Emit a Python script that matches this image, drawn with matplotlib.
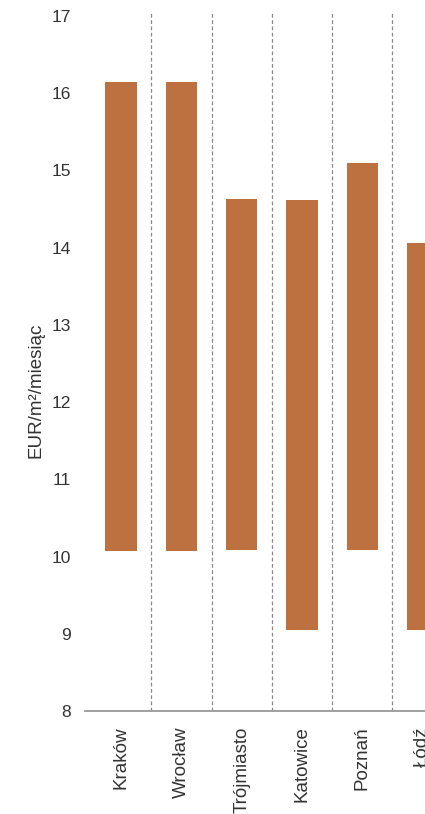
import numpy as np
import matplotlib.pyplot as plt

cities = ['Kraków', 'Wrocław', 'Trójmiasto', 'Katowice', 'Poznań', 'Łódź']
rent_min = [10.07, 10.07, 10.08, 9.05, 10.08, 9.05]
rent_max = [16.15, 16.15, 14.63, 14.62, 15.10, 14.06]

plt.rcParams['font.family'] = ['Liberation Sans', 'DejaVu Sans']

fig = plt.figure(figsize=(4.25, 8.14), dpi=100)
# axes run off the right edge, the chart is cropped there
ax = fig.add_axes([85 / 425, 103 / 814, 340 / 425, 699 / 814])

x = np.arange(len(cities))
heights = np.array(rent_max) - np.array(rent_min)
ax.bar(x, heights, bottom=rent_min, width=0.52, color='#BD7040', zorder=2)

for sep in x[:-1] + 0.5:
    ax.axvline(sep, color='#888888', linestyle=(0, (3, 2)), linewidth=0.9, zorder=1)

ax.set_xlim(-0.6, 5.04)
ax.set_ylim(8, 17.05)
ax.set_yticks(range(8, 18))
ax.set_xticks(x)
ax.set_xticklabels(cities, rotation=90, va='top', ha='center')

for s in ['top', 'right', 'left']:
    ax.spines[s].set_visible(False)
ax.spines['bottom'].set_color('#999999')
ax.spines['bottom'].set_linewidth(1.3)

ax.tick_params(axis='both', length=0, colors='#333333')
ax.tick_params(axis='y', pad=10, labelsize=12.5)
ax.tick_params(axis='x', pad=11, labelsize=13.5)
ax.set_ylabel('EUR/m²/miesiąc', fontsize=13.5, color='#333333')
ax.yaxis.set_label_coords(-0.118, 0.459)

fig.savefig('out.png', dpi=100)
